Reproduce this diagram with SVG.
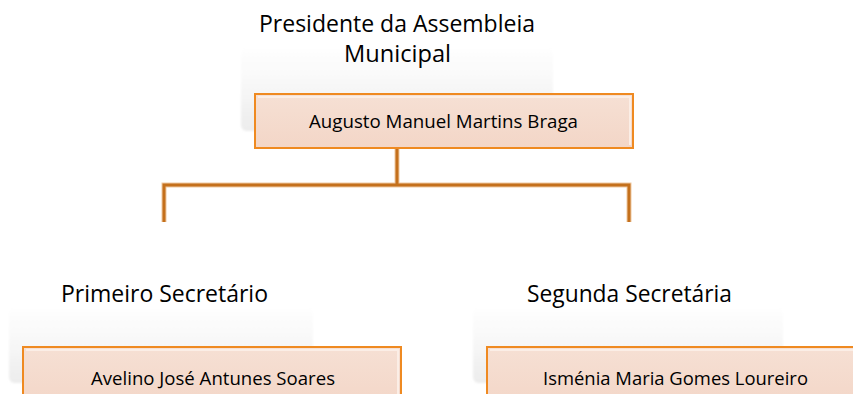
<svg xmlns="http://www.w3.org/2000/svg" width="853" height="394" viewBox="0 0 853 394">
  <defs>
    <linearGradient id="panel" x1="0" y1="0" x2="0" y2="1">
      <stop offset="0" stop-color="#ffffff"/>
      <stop offset="0.5" stop-color="#f7f7f7"/>
      <stop offset="1" stop-color="#ececec"/>
    </linearGradient>
    <linearGradient id="boxfill" x1="0" y1="0" x2="0" y2="1">
      <stop offset="0" stop-color="#f6e0d4"/>
      <stop offset="1" stop-color="#f3d6c7"/>
    </linearGradient>
    <filter id="soft" x="-5%" y="-10%" width="110%" height="120%">
      <feGaussianBlur stdDeviation="1.2"/>
    </filter>
  </defs>
  <style>
    .panel { fill: url(#panel); filter: url(#soft); }
    .box { fill: url(#boxfill); stroke: #ef8a21; stroke-width: 2; }
    .hl { fill: none; stroke: #fbeee6; stroke-width: 2; }
    .title { font-family: "Open Sans", "Liberation Sans", sans-serif; font-size: 24px; fill: #000000; }
    .name { font-family: "Open Sans", "Liberation Sans", sans-serif; font-size: 19px; fill: #000000; }
    .conn { fill: none; stroke: #c4701c; stroke-width: 3; }
    .connhalo { fill: none; stroke: #efc9a2; stroke-width: 5; }
  </style>
  <rect width="853" height="394" fill="#ffffff"/>

  <g id="connectors">
    <path class="connhalo" d="M397,149 V185 M164,222 V185 H629 V222"/>
    <path class="conn" d="M397,149 V185 M164,222 V185 H629 V222"/>
  </g>

  <g id="node-presidente">
    <rect class="panel" x="241" y="45" width="312" height="86" rx="6"/>
    <text class="title" x="397" y="32" text-anchor="middle" textLength="276" lengthAdjust="spacingAndGlyphs">Presidente da Assembleia</text>
    <text class="title" x="397.5" y="62" text-anchor="middle" textLength="107" lengthAdjust="spacingAndGlyphs">Municipal</text>
    <rect class="box" x="255" y="94" width="378" height="54"/>
    <path class="hl" d="M258,97 H630 V145"/>
    <text class="name" x="443.5" y="128" text-anchor="middle" textLength="269" lengthAdjust="spacingAndGlyphs">Augusto Manuel Martins Braga</text>
  </g>

  <g id="node-primeiro">
    <rect class="panel" x="9" y="305" width="304" height="78" rx="6"/>
    <text class="title" x="164.5" y="302" text-anchor="middle" textLength="207" lengthAdjust="spacingAndGlyphs">Primeiro Secretário</text>
    <rect class="box" x="23" y="347" width="378" height="60"/>
    <path class="hl" d="M26,350 H398 V400"/>
    <text class="name" x="213" y="385" text-anchor="middle" textLength="244" lengthAdjust="spacingAndGlyphs">Avelino José Antunes Soares</text>
  </g>

  <g id="node-segunda">
    <rect class="panel" x="473" y="305" width="310" height="78" rx="6"/>
    <text class="title" x="629.5" y="302" text-anchor="middle" textLength="205" lengthAdjust="spacingAndGlyphs">Segunda Secretária</text>
    <rect class="box" x="487" y="347" width="378" height="60"/>
    <path class="hl" d="M490,350 H862"/>
    <text class="name" x="675.5" y="385" text-anchor="middle" textLength="265" lengthAdjust="spacingAndGlyphs">Isménia Maria Gomes Loureiro</text>
  </g>
</svg>
